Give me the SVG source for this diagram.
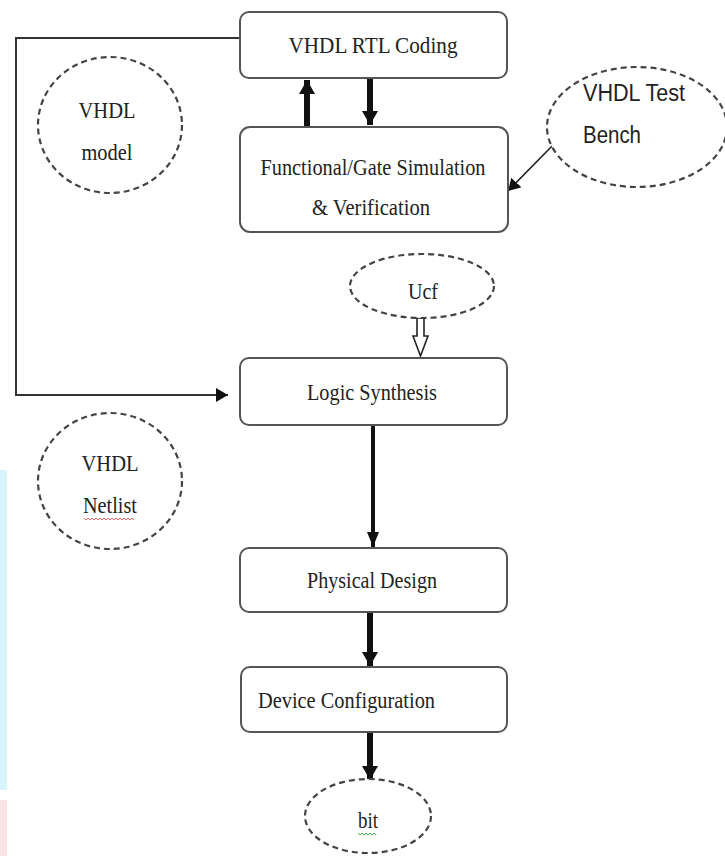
<svg xmlns="http://www.w3.org/2000/svg" width="725" height="856" viewBox="0 0 725 856">
<style>
.box{fill:#fff;stroke:#555;stroke-width:2}
.ell{fill:#fff;stroke:#444;stroke-width:2.2;stroke-dasharray:6 4}
.t{font-family:"Liberation Serif","Times New Roman",serif;font-size:23px;fill:#222;text-anchor:middle}
.s{font-family:"Liberation Sans",Arial,sans-serif;font-size:23px;fill:#222}
.ln{fill:none;stroke:#333;stroke-width:2}
</style>
<defs>
<marker id="ah" markerUnits="userSpaceOnUse" markerWidth="14" markerHeight="14" refX="12" refY="7" orient="auto"><path d="M0,0 L12,7 L0,14 Z" fill="#111"/></marker>
<marker id="ahb" markerUnits="userSpaceOnUse" markerWidth="16" markerHeight="16" refX="14" refY="8" orient="auto"><path d="M0,0 L14,8 L0,16 Z" fill="#111"/></marker>
<marker id="ahm" markerUnits="userSpaceOnUse" markerWidth="16" markerHeight="12" refX="15" refY="6" orient="auto"><path d="M0,0 L15,6 L0,12 Z" fill="#111"/></marker>
</defs>
<rect x="0" y="470" width="7" height="320" fill="#d6f6fa"/>
<rect x="0" y="800" width="7" height="56" fill="#fbe3e3"/>
<g id="connectors">
<path class="ln" d="M240,38 H16 V395 H228" marker-end="url(#ah)"/>
<line x1="307" y1="127" x2="307" y2="80" stroke="#111" stroke-width="6" marker-end="url(#ahb)"/>
<line x1="370" y1="78" x2="370" y2="125" stroke="#111" stroke-width="6" marker-end="url(#ahb)"/>
<line x1="555" y1="143" x2="508" y2="191" stroke="#222" stroke-width="1.6" marker-end="url(#ah)"/>
<path d="M417,318 H424 V336 H428 L420.5,356 L413,336 H417 Z" fill="#fff" stroke="#222" stroke-width="1.6"/>
<line x1="373" y1="425" x2="373" y2="547" stroke="#111" stroke-width="4" marker-end="url(#ahm)"/>
<line x1="370" y1="612" x2="370" y2="666" stroke="#111" stroke-width="6" marker-end="url(#ahb)"/>
<line x1="370" y1="732" x2="370" y2="780" stroke="#111" stroke-width="6" marker-end="url(#ahb)"/>
</g>
<g id="rtl"><rect class="box" x="240" y="12" width="267" height="66" rx="9"/><text class="t" x="373" y="53" textLength="169" lengthAdjust="spacingAndGlyphs">VHDL RTL Coding</text></g>
<g id="sim"><rect class="box" x="240" y="127" width="268" height="105" rx="10"/><text class="t" x="373" y="175" textLength="225" lengthAdjust="spacingAndGlyphs">Functional/Gate Simulation</text><text class="t" x="371" y="215" textLength="118" lengthAdjust="spacingAndGlyphs">&amp; Verification</text></g>
<g id="model"><ellipse class="ell" cx="110" cy="125" rx="72" ry="68"/><text class="t" x="107" y="118" textLength="57" lengthAdjust="spacingAndGlyphs">VHDL</text><text class="t" x="107" y="160" textLength="51" lengthAdjust="spacingAndGlyphs">model</text></g>
<g id="testbench"><ellipse class="ell" cx="637" cy="127" rx="90" ry="60"/><text class="s" x="583" y="101" textLength="102" lengthAdjust="spacingAndGlyphs">VHDL Test</text><text class="s" x="583" y="143" textLength="58" lengthAdjust="spacingAndGlyphs">Bench</text></g>
<g id="ucf"><ellipse class="ell" cx="422" cy="286" rx="72" ry="32"/><text class="t" x="423" y="299" textLength="30" lengthAdjust="spacingAndGlyphs">Ucf</text></g>
<g id="synth"><rect class="box" x="240" y="358" width="267" height="67" rx="9"/><text class="t" x="372" y="400" textLength="130" lengthAdjust="spacingAndGlyphs">Logic Synthesis</text></g>
<g id="netlist"><ellipse class="ell" cx="110" cy="481" rx="72" ry="68"/><text class="t" x="110" y="471" textLength="57" lengthAdjust="spacingAndGlyphs">VHDL</text><text class="t" x="110" y="513" textLength="54" lengthAdjust="spacingAndGlyphs">Netlist</text><path d="M84,518 l2,2 2,-2 2,2 2,-2 2,2 2,-2 2,2 2,-2 2,2 2,-2 2,2 2,-2 2,2 2,-2 2,2 2,-2 2,2 2,-2 2,2 2,-2 2,2 2,-2 2,2 2,-2 2,2" fill="none" stroke="#e05050" stroke-width="0.9"/></g>
<g id="physical"><rect class="box" x="240" y="548" width="267" height="64" rx="9"/><text class="t" x="372" y="588" textLength="130" lengthAdjust="spacingAndGlyphs">Physical Design</text></g>
<g id="device"><rect class="box" x="241" y="667" width="266" height="65" rx="9"/><text class="t" x="258" y="708" style="text-anchor:start" textLength="177" lengthAdjust="spacingAndGlyphs">Device Configuration</text></g>
<g id="bit"><ellipse class="ell" cx="368" cy="816" rx="63" ry="37"/><text class="t" x="368" y="828" textLength="20" lengthAdjust="spacingAndGlyphs">bit</text><path d="M358,833 l2,2 2,-2 2,2 2,-2 2,2 2,-2 2,2 2,-2 2,2" fill="none" stroke="#3a3" stroke-width="0.9"/></g>
</svg>
